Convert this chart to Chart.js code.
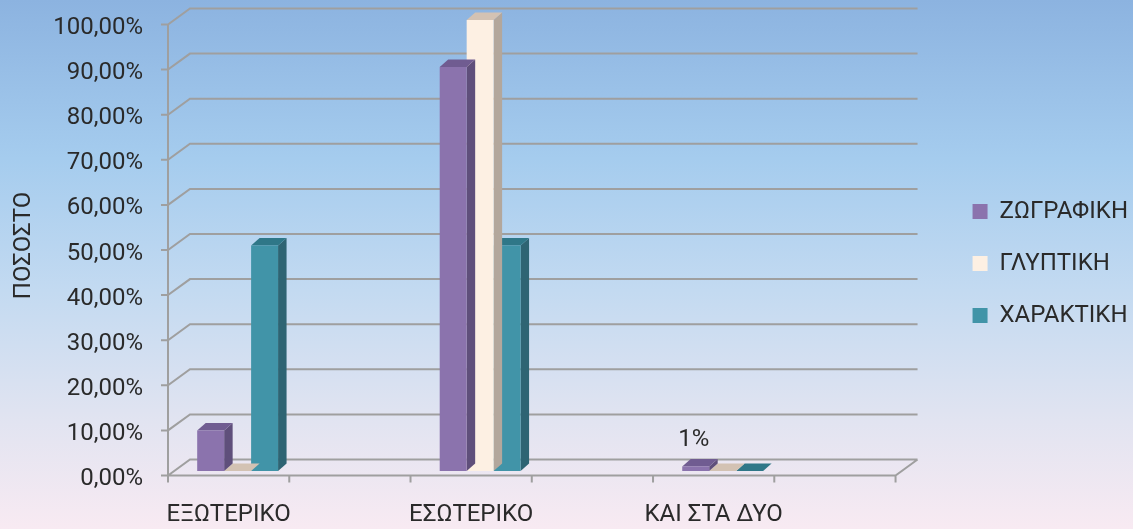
<!DOCTYPE html>
<html><head><meta charset="utf-8">
<script src="https://cdn.jsdelivr.net/npm/chart.js@4.4.1/dist/chart.umd.min.js"></script>
<style>html,body{margin:0;padding:0;overflow:hidden;background:#fff}#wrap{width:1133px;height:529px;position:relative}</style>
</head><body><div id="wrap"><canvas id="c" width="1133" height="529"></canvas></div>
<script>
// ---- data ----
const categories = ['ΕΞΩΤΕΡΙΚΟ', '', 'ΕΣΩΤΕΡΙΚΟ', '', 'ΚΑΙ ΣΤΑ ΔΥΟ', ''];
const seriesNames = ['ΖΩΓΡΑΦΙΚΗ', 'ΓΛΥΠΤΙΚΗ', 'ΧΑΡΑΚΤΙΚΗ'];
const zografiki = [0.09, null, 0.896, null, 0.01, null];
const glyptiki = [0, null, 1.00, null, 0, null];
const charaktiki = [0.50, null, 0.50, null, 0, null];
const yTickValues = [0, 0.1, 0.2, 0.3, 0.4, 0.5, 0.6, 0.7, 0.8, 0.9, 1.0];
const labeledPoints = [[0, 4]]; // [series, category] showing a value label
const yTitle = 'ΠΟΣΟΣΤΟ';

// ---- styles ----
const frontColors = ['#8b73ad', '#fdf0e3', '#4194a8'];
const sideColors = ['#5f4f7b', '#b3a79c', '#2e6473'];
const topColors = ['#705c91', '#d3c2b3', '#2f7788'];
const gridColor = '#9f9f9f';
const textColor = '#2a2a2a';
const FONT = 'Roboto';
const DX = 8.5, DY = -7.5;      // bar depth
const WX = 22, WY = -16;        // wall depth
const FRONT_SHIFT_X = -9, FRONT_SHIFT_Y = 4.5;

Chart.defaults.font.family = FONT;
Chart.defaults.color = textColor;

const fmtPct = v => (v * 100).toFixed(2).replace('.', ',') + '%';

const bgPlugin = {
  id: 'bg',
  beforeDraw(chart) {
    const ctx = chart.ctx;
    const g = ctx.createLinearGradient(0, 0, 0, chart.height);
    g.addColorStop(0, '#8cb3e0');
    g.addColorStop(0.3, '#a5ccee');
    g.addColorStop(0.55, '#c3daf1');
    g.addColorStop(0.8, '#e2e4f1');
    g.addColorStop(1, '#f8eaf2');
    ctx.save();
    ctx.fillStyle = g;
    ctx.fillRect(0, 0, chart.width, chart.height);
    ctx.restore();
  }
};

const wallPlugin = {
  id: 'walls',
  beforeDatasetsDraw(chart) {
    const ctx = chart.ctx;
    const y = chart.scales.y, x = chart.scales.x;
    const xl = x.left + FRONT_SHIFT_X, xr = x.right + FRONT_SHIFT_X;
    ctx.save();
    ctx.strokeStyle = gridColor;
    ctx.lineWidth = 2;
    ctx.beginPath();
    yTickValues.forEach(v => {
      const yf = y.getPixelForValue(v) + FRONT_SHIFT_Y;
      ctx.moveTo(xl - 7, yf); ctx.lineTo(xl, yf);
      ctx.lineTo(xl + WX, yf + WY); ctx.lineTo(xr + WX, yf + WY);
    });
    const y0 = y.getPixelForValue(0) + FRONT_SHIFT_Y;
    const y1 = y.getPixelForValue(1) + FRONT_SHIFT_Y;
    ctx.moveTo(xl, y1); ctx.lineTo(xl, y0);
    ctx.moveTo(xl, y0); ctx.lineTo(xr, y0); ctx.lineTo(xr + WX, y0 + WY);
    const n = categories.length;
    for (let k = 0; k <= n; k++) {
      const xk = xl + k * (x.width / n);
      ctx.moveTo(xk, y0); ctx.lineTo(xk, y0 + 7);
    }
    ctx.stroke();
    ctx.restore();
  },
  beforeDatasetDraw(chart, args) {
    const ctx = chart.ctx;
    const i = args.index;
    const meta = args.meta;
    ctx.save();
    meta.data.forEach((bar, j) => {
      const raw = chart.data.datasets[i].data[j];
      if (raw === null || raw === undefined) return;
      const p = bar.getProps(['x', 'y', 'base', 'width'], true);
      const l = p.x - p.width / 2, r = p.x + p.width / 2;
      ctx.fillStyle = sideColors[i];
      ctx.beginPath();
      ctx.moveTo(r, p.y); ctx.lineTo(r + DX, p.y + DY);
      ctx.lineTo(r + DX, p.base + DY); ctx.lineTo(r, p.base);
      ctx.closePath(); ctx.fill();
      ctx.fillStyle = topColors[i];
      ctx.beginPath();
      ctx.moveTo(l, p.y); ctx.lineTo(r, p.y);
      ctx.lineTo(r + DX, p.y + DY); ctx.lineTo(l + DX, p.y + DY);
      ctx.closePath(); ctx.fill();
    });
    ctx.restore();
  },
  afterDatasetsDraw(chart) {
    const ctx = chart.ctx;
    ctx.save();
    ctx.fillStyle = textColor;
    ctx.font = '24px ' + FONT;
    ctx.textAlign = 'center';
    ctx.textBaseline = 'middle';
    labeledPoints.forEach(([s, c]) => {
      const bar = chart.getDatasetMeta(s).data[c];
      const v = chart.data.datasets[s].data[c];
      const p = bar.getProps(['x', 'y'], true);
      ctx.fillText(Math.round(v * 100) + '%', p.x - 2, p.y - 26);
    });
    ctx.restore();
  },
  afterLayout(chart) {
    const lg = chart.legend;
    if (lg) { lg.left += 40; lg.right += 40; lg.top -= 11; lg.bottom -= 11; }
  }
};

const seriesData = [zografiki, glyptiki, charaktiki];

new Chart(document.getElementById('c'), {
  type: 'bar',
  data: {
    labels: categories,
    datasets: seriesNames.map((name, i) => ({
      label: name,
      data: seriesData[i],
      backgroundColor: frontColors[i],
      borderWidth: 0,
      categoryPercentage: 0.667,
      barPercentage: 1.0
    }))
  },
  options: {
    responsive: false,
    animation: false,
    devicePixelRatio: 1,
    layout: { padding: { top: 20, right: 35, bottom: 0, left: 0 } },
    plugins: {
      tooltip: { enabled: false },
      legend: {
        position: 'right',
        maxWidth: 200,
        labels: {
          boxWidth: 15, boxHeight: 15, padding: 28,
          font: { size: 24, family: FONT }, color: textColor
        }
      }
    },
    scales: {
      x: {
        grid: { display: false },
        border: { display: false },
        ticks: { font: { size: 24 }, color: textColor, padding: 22, labelOffset: -9, maxRotation: 0, autoSkip: false },
        afterFit(s) { s.height = 58; s.paddingLeft = 0; s.paddingRight = 0; }
      },
      y: {
        min: 0, max: 1,
        afterBuildTicks(s) { s.ticks = yTickValues.map(v => ({ value: v })); },
        grid: { display: false, drawTicks: false },
        border: { display: false },
        ticks: { font: { size: 24 }, color: textColor, padding: 34, labelOffset: 8, callback: v => fmtPct(v) },
        title: { display: true, text: yTitle, font: { size: 24 }, color: textColor, padding: { top: 10, bottom: 0 } },
        afterFit(s) { s.width = 177; s.paddingTop = 10; s.paddingBottom = 10; }
      }
    }
  },
  plugins: [bgPlugin, wallPlugin]
});
</script>
</body></html>
